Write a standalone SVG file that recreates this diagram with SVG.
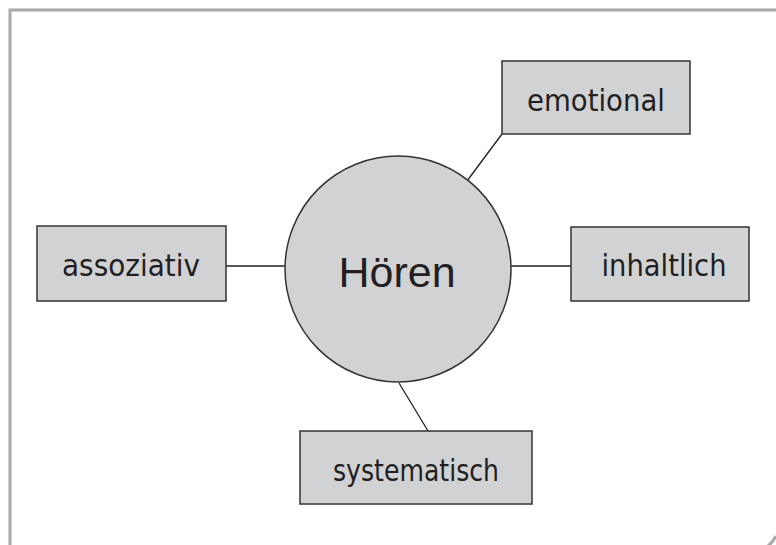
<svg xmlns="http://www.w3.org/2000/svg" width="776" height="545" viewBox="0 0 776 545">
<style>
.frame{fill:none;stroke:#a8a8aa;stroke-width:3}
.box{fill:#d1d2d4;stroke:#333333;stroke-width:1.5}
.lbl{font-family:"DejaVu Sans",sans-serif;font-size:30px;fill:#231f20;text-anchor:middle}
.hub{font-family:"Liberation Sans",Arial,sans-serif;font-size:43px;fill:#231f20;text-anchor:middle}
.edge{stroke:#231f20;stroke-width:1.3;fill:none}
</style>
<rect x="0" y="0" width="776" height="545" fill="#ffffff"/>
<path class="frame" d="M10 545 V10 H776"/>
<path class="frame" d="M776 536 Q773 542 768 546"/>
<g id="connectors">
<line class="edge" x1="226" y1="266" x2="286" y2="266"/>
<line class="edge" x1="510" y1="266" x2="571" y2="266"/>
<line class="edge" x1="502" y1="134" x2="467" y2="181"/>
<line class="edge" x1="399" y1="383" x2="428" y2="431"/>
</g>
<g id="hoeren">
<circle class="box" cx="398" cy="269" r="113"/>
<text class="hub" x="397" y="287">Hören</text>
</g>
<g id="emotional">
<rect class="box" x="502" y="61" width="188" height="73"/>
<text class="lbl" x="596" y="111" textLength="138" lengthAdjust="spacingAndGlyphs">emotional</text>
</g>
<g id="assoziativ">
<rect class="box" x="37" y="226" width="189" height="75"/>
<text class="lbl" x="131" y="276" textLength="138" lengthAdjust="spacingAndGlyphs">assoziativ</text>
</g>
<g id="inhaltlich">
<rect class="box" x="571" y="227" width="178" height="74"/>
<text class="lbl" x="664" y="276" textLength="125" lengthAdjust="spacingAndGlyphs">inhaltlich</text>
</g>
<g id="systematisch">
<rect class="box" x="300" y="431" width="232" height="73"/>
<text class="lbl" x="416" y="481" textLength="166" lengthAdjust="spacingAndGlyphs">systematisch</text>
</g>
</svg>
